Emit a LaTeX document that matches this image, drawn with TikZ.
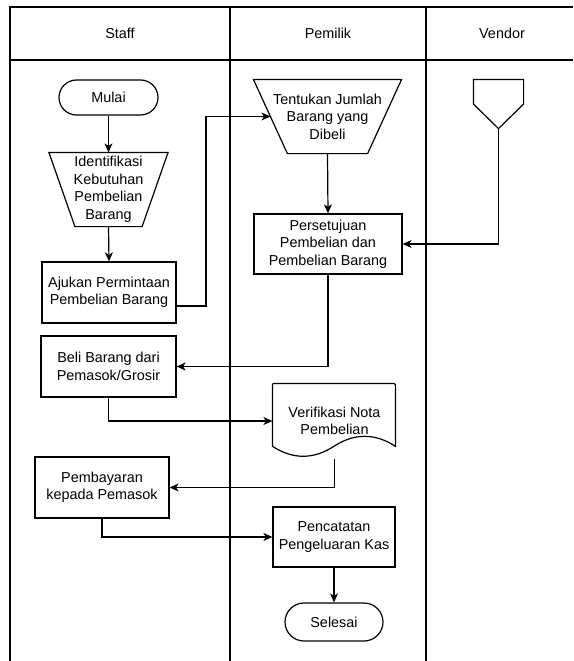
\documentclass[tikz,border=0pt]{standalone}
\usepackage{fontspec}
\setmainfont{Liberation Sans}
\usetikzlibrary{arrows.meta,calc}
\newcommand\dfont{\fontsize{14.4}{17.5}\selectfont}
\begin{document}
\begin{tikzpicture}[x=1pt,y=-1pt,line width=1.2pt,
  lbl/.style={inner sep=0pt,align=center,font=\dfont,text=black},
  box/.style={lbl,draw,rectangle},
  term/.style={lbl,draw,rectangle,rounded corners=17.5pt},
  shp/.style={lbl,rectangle},
  conn/.style={-{Stealth[length=9pt,width=8pt,inset=2.5pt]}},
  lane/.style={line width=1.2pt}]
\useasboundingbox (0,0) rectangle (573,661);
% swimlane table
\draw[lane] (573,7) -- (10,7) -- (10,661);
\draw[lane] (10,60) -- (573,60);
\draw[lane] (230,7) -- (230,661);
\draw[lane] (426,7) -- (426,661);
\node[lbl] (hstaff) at (120,33.5) {Staff};
\node[lbl] (hpem) at (328,33.5) {Pemilik};
\node[lbl] (hven) at (502,33.5) {Vendor};
% nodes
\node[term,minimum width=99pt,minimum height=35pt] (mulai) at (108.5,97.5) {Mulai};
\node[shp,minimum width=118pt,minimum height=73pt] (idf) at (108.5,189.5) {Identifikasi\\Kebutuhan\\Pembelian\\Barang};
\draw (idf.north west) -- (idf.north east) -- ([xshift=-26pt]idf.south east) -- ([xshift=26pt]idf.south west) -- cycle;
\node[box,minimum width=134pt,minimum height=61pt] (ajk) at (109,292.5) {Ajukan Permintaan\\Pembelian Barang};
\node[box,minimum width=135pt,minimum height=61pt] (beli) at (108.5,366.5) {Beli Barang dari\\Pemasok/Grosir};
\node[box,minimum width=134pt,minimum height=61pt] (pay) at (102,487.5) {Pembayaran\\kepada Pemasok};
\node[shp,minimum width=147pt,minimum height=73pt] (tent) at (327.5,116.5) {Tentukan Jumlah\\Barang yang\\Dibeli};
\draw (tent.north west) -- (tent.north east) -- ([xshift=-34pt]tent.south east) -- ([xshift=34pt]tent.south west) -- cycle;
\node[box,minimum width=148pt,minimum height=60pt] (pers) at (328,244) {Persetujuan\\Pembelian dan\\Pembelian Barang};
\node[shp,minimum width=123pt,minimum height=74pt] (verif) at (334.5,421) {Verifikasi Nota\\Pembelian};
\draw[shift={(verif.north west)}] (0,62.9) -- (0,4) .. controls (0,0) .. (4,0) -- (119,0) .. controls (123,0) .. (123,4) -- (123,62.9)
  .. controls (102.5,49.6) and (82,49.6) .. (61.5,62.9)
  .. controls (41,76.2) and (20.5,76.2) .. (0,62.9) -- cycle;
\node[box,minimum width=122pt,minimum height=60pt] (pcat) at (334,537) {Pencatatan\\Pengeluaran Kas};
\node[term,rounded corners=19pt,minimum width=98pt,minimum height=38pt] (sel) at (334,622) {Selesai};
\node[shp,minimum width=49pt,minimum height=48pt] (vend) at (498.5,104) {};
\draw (vend.north west) -- (vend.north east) -- (vend.east) -- (vend.south) -- (vend.west) -- cycle;
% connectors
\coordinate (bend1) at (206,306);
\draw[conn] (mulai) -- (idf.north);
\draw[conn] (idf.south) -- (ajk.north);
\draw[conn] ([yshift=-13.5pt]ajk.east) -- (bend1) |- ([xshift=17pt]tent.west);
\draw[conn] (tent.south) -- (pers.north);
\draw[conn] (vend.south) |- (pers.east);
\draw[conn] (pers.south) |- (beli.east);
\draw[conn] (beli.south) |- (verif.west);
\draw[conn] (verif.south) |- (pay.east);
\draw[conn] (pay.south) |- (pcat.west);
\draw[conn] (pcat.south) -- (sel.north);
\end{tikzpicture}
\end{document}
